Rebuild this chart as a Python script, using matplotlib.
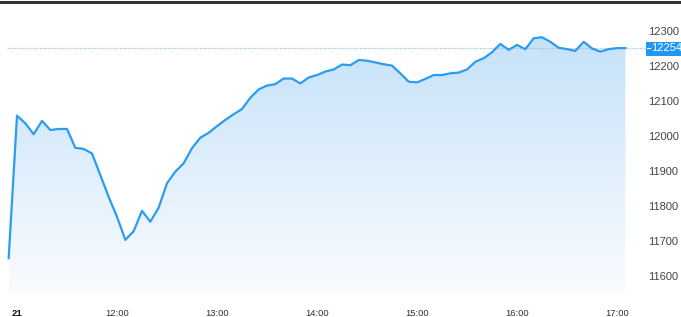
import matplotlib
matplotlib.use("Agg")
import matplotlib.pyplot as plt
import numpy as np
from matplotlib.path import Path
from matplotlib.patches import PathPatch, Rectangle

plt.rcParams['font.family'] = ['Liberation Sans', 'DejaVu Sans']

# ---- data (5-minute steps; minutes after 11:00, first point 10:55) ----
values = [11654,
          12061, 12039, 12008, 12046, 12020, 12023, 12023, 11969, 11966, 11953,
          11891, 11829, 11772, 11706, 11731, 11789, 11758, 11798, 11868, 11901,
          11925, 11968, 11998, 12012, 12031, 12049, 12065, 12080, 12112, 12136,
          12147, 12151, 12167, 12167, 12153, 12170, 12177, 12187, 12193, 12207,
          12205, 12220, 12218, 12213, 12208, 12204, 12182, 12158, 12156, 12166,
          12177, 12177, 12182, 12184, 12193, 12215, 12225, 12242, 12266, 12249,
          12263, 12251, 12282, 12285, 12272, 12255, 12251, 12246, 12272, 12253,
          12244, 12251, 12254, 12254]
minutes = [-5 + 5 * i for i in range(len(values))]
last_value = 12254
y_ticks = [12300, 12200, 12100, 12000, 11900, 11800, 11700, 11600]
x_tick_pos = [0, 60, 120, 180, 240, 300, 360]
x_tick_labels = ["21", "12:00", "13:00", "14:00", "15:00", "16:00", "17:00"]

W, H = 681, 317
fig = plt.figure(figsize=(W / 100, H / 100), dpi=100)
ax = fig.add_axes([0, 0, 1, 1])
# pixel mapping: x_px = 17 + min*100/60 ; y_px(from top) = 67 + (12200-v)*0.35
x0 = -17 * 0.6
x1 = (W - 17) * 0.6
ytop = 12200 + 67 / 0.35
ybot = 12200 - (H - 67) / 0.35
ax.set_xlim(x0, x1)
ax.set_ylim(ybot, ytop)
ax.axis('off')

def px_to_min(px):
    return (px - 17) * 0.6

def py_to_val(py):
    return 12200 - (py - 67) / 0.35

line_color = '#2b9cf0'
fill_bottom = py_to_val(293)
xs = np.array(minutes, dtype=float)
ys = np.array(values, dtype=float)

# gradient fill under the line
verts = [(xs[0], fill_bottom)] + list(zip(xs, ys)) + [(xs[-1], fill_bottom), (xs[0], fill_bottom)]
codes = [Path.MOVETO] + [Path.LINETO] * (len(verts) - 2) + [Path.CLOSEPOLY]
clip = PathPatch(Path(verts, codes), facecolor='none', edgecolor='none')
ax.add_patch(clip)
top_c = np.array([196, 225, 249]) / 255
bot_c = np.array([250, 252, 255]) / 255
t = np.linspace(0, 1, 256)[:, None]
grad = (top_c[None, :] * (1 - t) + bot_c[None, :] * t)[:, None, :]
im = ax.imshow(grad, extent=[xs[0], xs[-1], fill_bottom, py_to_val(30)], aspect='auto',
               origin='upper', zorder=1, interpolation='bilinear')
im.set_clip_path(clip)

ax.plot(xs, ys, color=line_color, lw=1.6, zorder=3)

# dotted last-price line
ax.plot([px_to_min(7), px_to_min(646)], [last_value, last_value], color='#9cc6dc',
        lw=0.9, ls=(0, (1, 1)), zorder=2)

# last price label box
ax.add_patch(Rectangle((px_to_min(646), py_to_val(56)), px_to_min(681) - px_to_min(646),
                       py_to_val(42) - py_to_val(56), facecolor='#2196f3', edgecolor='none',
                       zorder=4, clip_on=False))
ax.plot([px_to_min(647), px_to_min(650)], [last_value, last_value], color='white', lw=0.8, zorder=5)
ax.text(px_to_min(651), last_value, str(last_value), color='white', fontsize=8,
        va='center', ha='left', zorder=6)

# y tick labels
for v in y_ticks:
    ax.text(px_to_min(648), v, str(v), color='#444444', fontsize=8, va='center', ha='left')

# x tick labels
for p, lab in zip(x_tick_pos, x_tick_labels):
    bold = lab == "21"
    ax.text(p, py_to_val(316), lab, color='#111111' if bold else '#333333', fontsize=6.8,
            fontweight='bold' if bold else 'normal', va='baseline', ha='center')

# top border
fig.add_artist(plt.Line2D([0, 1], [1 - 1.5 / H, 1 - 1.5 / H], color='#333333', lw=2.2,
                          transform=fig.transFigure))

fig.savefig('out.png', dpi=100)
